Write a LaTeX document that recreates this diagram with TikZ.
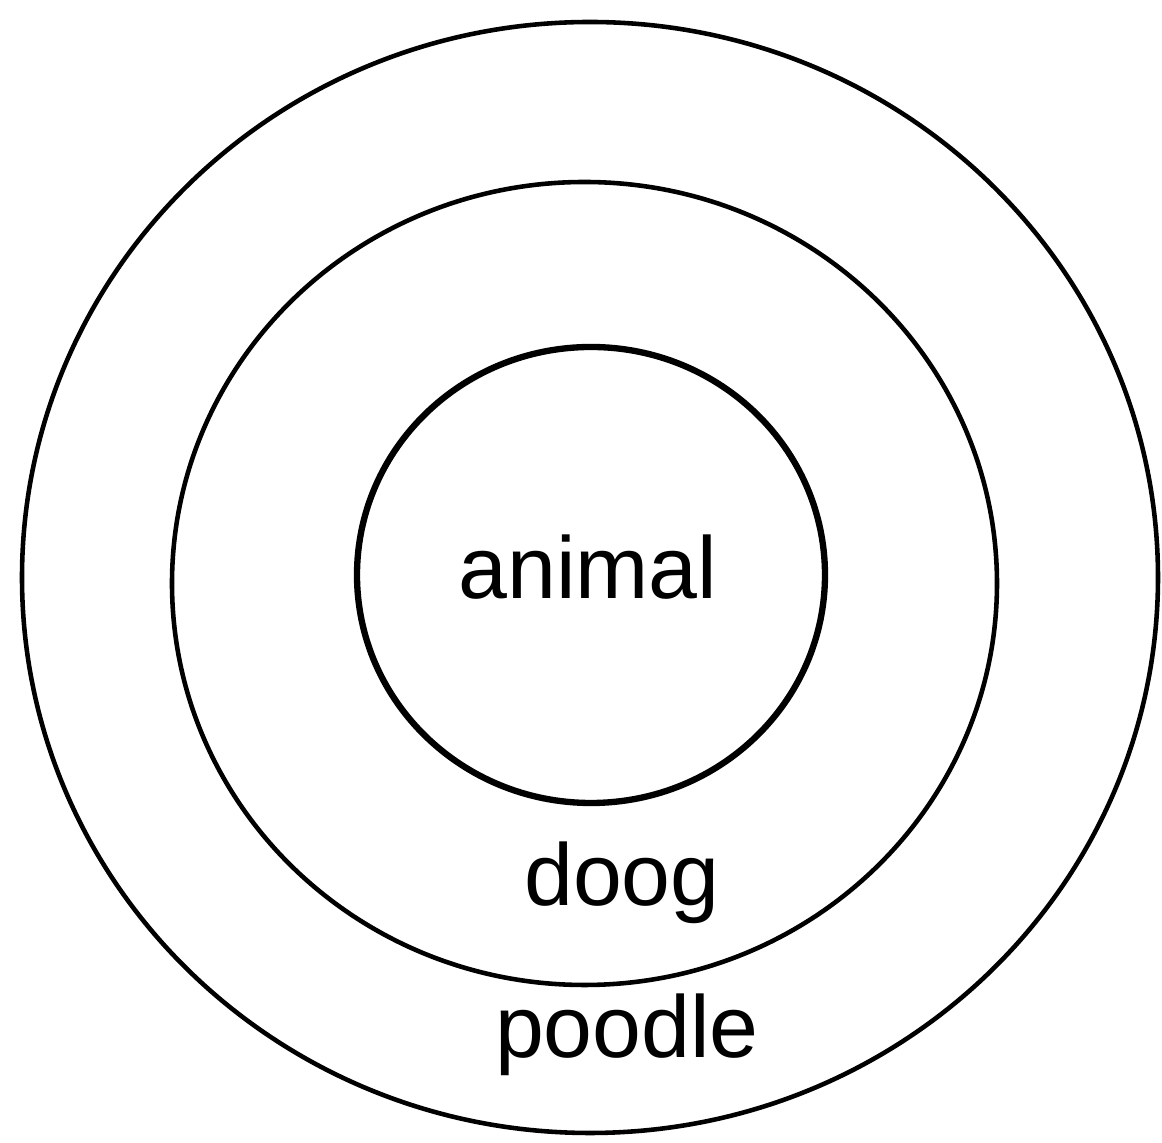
\documentclass[tikz,border=0pt]{standalone}
\usepackage{fontspec}
\setmainfont{Liberation Sans}
\usepackage{tikz}

\tikzset{ring/.style={draw=black,line width=1.3pt},
  lbl/.style={font=\fontsize{25}{30}\selectfont,inner sep=0pt}}

\begin{document}
\begin{tikzpicture}
\useasboundingbox (0,0) rectangle (11.62,11.43);
%% rings
\draw[ring] (5.90,5.655) ellipse (5.68 and 5.555);
\draw[ring] (5.845,5.595) ellipse (4.125 and 4.015);
\draw[ring,line width=1.8pt] (5.91,5.68) ellipse (2.34 and 2.28);

%% labels
\node[lbl] (animal) at (5.88,5.76) {animal};
\node[lbl] (dog) at (6.22,2.60) {doog};
\node[lbl] (poodle) at (6.27,1.08) {poodle};
\end{tikzpicture}
\end{document}
